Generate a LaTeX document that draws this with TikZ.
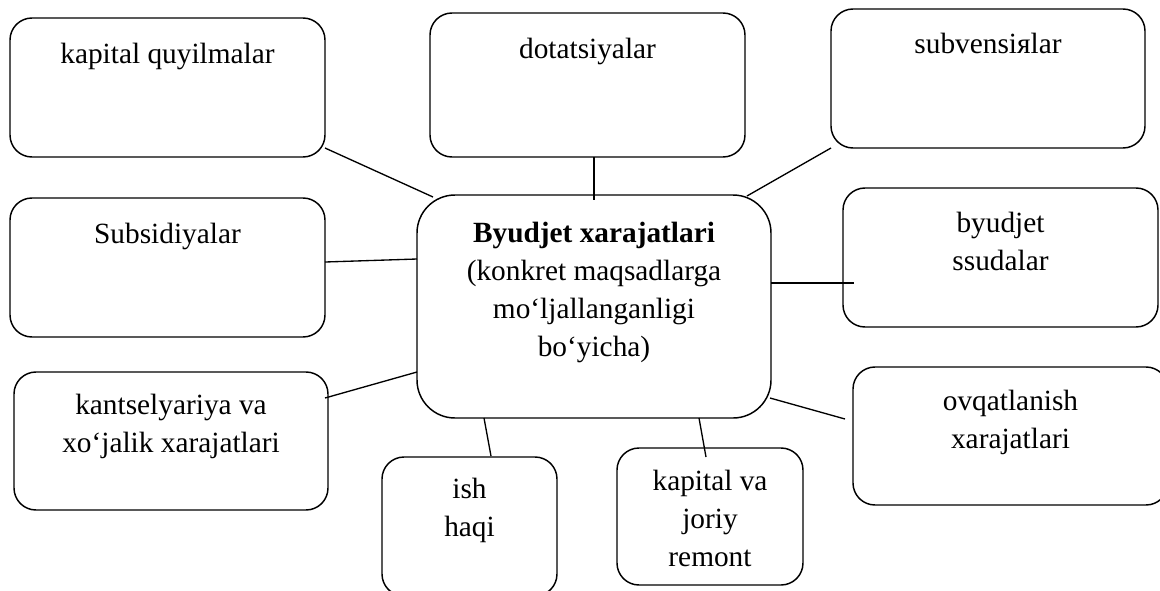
\documentclass[tikz,border=0pt]{standalone}
\usepackage{fontspec}
\setmainfont{Liberation Serif}
\usetikzlibrary{calc}

% one drawing unit is 0.75pt; sizes below are given in those units
\tikzset{
  sz/.style 2 args={minimum width=#1*0.75pt, minimum height=#2*0.75pt},
  box/.style={draw, line width=1.1pt, rounded corners=16.5pt, inner sep=0pt, outer sep=0pt},
  hub/.style={draw, line width=1.1pt, rounded corners=28.5pt, inner sep=0pt, outer sep=0pt},
  txt/.style={anchor=north, inner sep=0pt, align=center,
              font=\fontsize{22}{28.5}\selectfont},
  link/.style={line width=1pt}
}

\begin{document}
\begin{tikzpicture}[x=0.75pt, y=-0.75pt]
  % page frame, 1160 x 590 units, with y running downwards
  \clip (0,0) rectangle (1160,590);
  \fill[white] (0,0) rectangle (1160,590);

  % central box
  \node[hub, sz={354}{223}] (c) at (594,306.5) {};
  \node[txt] (ct) at (594,222) {\textbf{Byudjet xarajatlari}\\(konkret maqsadlarga\\mo‘ljallanganligi\\bo‘yicha)};

  % surrounding boxes
  \node[box, sz={315}{139}] (kq) at (167.5,87.5) {};
  \node[txt] (kqt) at (167.5,43) {kapital quyilmalar};

  \node[box, sz={315}{144}] (dot) at (587.5,85) {};
  \node[txt] (dott) at (587.5,38) {dotatsiyalar};

  \node[box, sz={314}{139}] (sub) at (988,78.5) {};
  \node[txt] (subt) at (988,33) {subvensiяlar};

  \node[box, sz={315}{139}] (sds) at (167.5,267.5) {};
  \node[txt] (sdst) at (167.5,223) {Subsidiyalar};

  \node[box, sz={315}{139}] (bs) at (1000.5,257.5) {};
  \node[txt] (bst) at (1000.5,212) {byudjet\\ssudalar};

  \node[box, sz={315}{138}] (ovq) at (1010.5,436) {};
  \node[txt] (ovqt) at (1010.5,390) {ovqatlanish\\xarajatlari};

  \node[box, sz={314}{138}] (kan) at (171,441) {};
  \node[txt] (kant) at (171,394) {kantselyariya va\\xo‘jalik xarajatlari};

  \node[box, sz={175}{139}] (ish) at (469.5,526.5) {};
  \node[txt] (isht) at (469.5,478) {ish\\haqi};

  \node[box, sz={186}{137}] (kvj) at (710,516.5) {};
  \node[txt] (kvjt) at (710,470) {kapital va\\joriy\\remont};

  % connectors from the central box
  \draw[link] ($(kq.south east)+(0,-9)$) -- ($(c.north west)+(16,2)$);
  \draw[link] (dot.south -| c.north) -- ($(c.north)+(0,5)$);
  \draw[link] (sub.south west) -- ($(c.north east)+(-24,1)$);
  \draw[link] ($(sds.east)+(0,-5.5)$) -- ($(c.west)+(0,-47.5)$);
  \draw[link] ($(c.east)+(0,-23.5)$) -- ($(bs.west)+(11,25.5)$);
  \draw[link] ($(c.east)+(-1,91.5)$) -- ($(ovq.west)+(-8,-17)$);
  \draw[link] ($(kan.east)+(-3,-43)$) -- ($(c.west)+(0,65.5)$);
  \draw[link] ($(c.south)+(-110,0)$) -- ($(ish.north)+(21.5,-1)$);
  \draw[link] ($(c.south)+(105,0)$) -- ($(kvj.north)+(-4,9)$);
\end{tikzpicture}
\end{document}
